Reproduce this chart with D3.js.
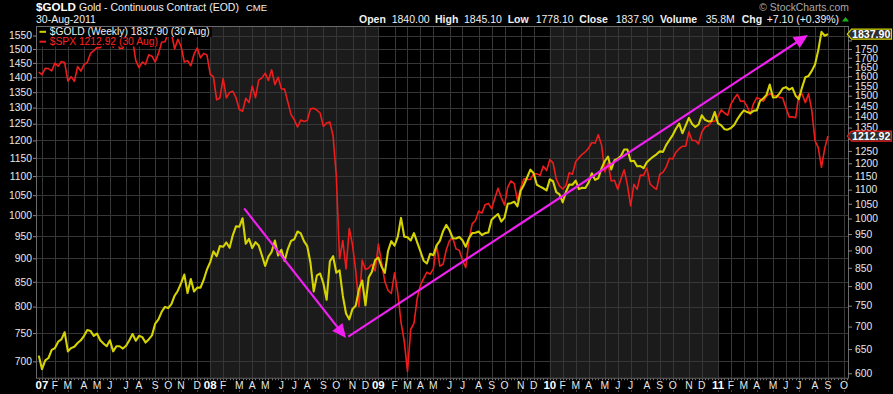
<!DOCTYPE html>
<html><head><meta charset="utf-8">
<script src="https://cdn.jsdelivr.net/npm/d3@7"></script>
<style>
html,body{margin:0;padding:0;background:#000;}
svg{display:block;}
text{font-family:"Liberation Sans",Arial,sans-serif;}
</style></head><body>
<svg id="chart" width="893" height="394"></svg>
<script>
// ---------- DATA ----------
const firstWeek = [2006, 11, 29];          // first weekly bar (Fri 29-Dec-2006)
const goldStart = [636];
const gold2007 = [608,626,631,648, 652,666,671,687, 645,652,655,663,669, 679,692,690,679, 684,669,662,656, 669,645,656,656,651, 657,669,683,668, 679,676,664,671,680, 707,717,735,747, 744,754,775,788, 808,831,782,819,786, 796,796,817,845];
const gold2008 = [866,897,883,913, 911,924,908,947,975, 973,1001,920,935, 907,925,915,885, 855,882,896,930,885, 902,869,904,929, 934,958,952,928, 913,864,786,829,834, 807,765,868,883, 836,843,775,731,717, 742,750,792,815, 751,823,839,872];
const gold2009 = [879,853,836,899,928, 914,942,1002,942, 940,930,953,924, 897,870,862,890, 886,915,929,959,979, 962,937,936,941, 931,911,937,953,954, 958,947,953,955, 996,1006,1015,990, 1003,1050,1052,1057,1041, 1096,1118,1146,1175, 1161,1118,1111,1105, 1097];
const gold2010 = [1138,1131,1091,1083, 1055,1092,1119,1118, 1133,1102,1107,1106, 1126,1161,1136,1142,1180, 1209,1227,1176,1212, 1218,1229,1256,1256, 1208,1210,1188,1189,1181, 1204,1216,1227,1236, 1248,1246,1275,1296, 1317,1345,1368,1325,1359, 1394,1366,1353,1364, 1406,1385,1378,1380,1421];
const gold2011 = [1369,1360,1343,1341, 1348,1362,1388,1410, 1429,1421,1416,1427, 1429,1474,1486,1504,1556, 1491,1492,1510,1536, 1543,1530,1539,1500, 1483,1542,1594,1601,1628, 1663,1742,1852,1828, 1837.90];

const spxStart = [1418];
const spx2007 = [1409,1431,1430,1422, 1449,1438,1455,1451, 1387,1402,1386,1437,1421, 1444,1452,1484,1494, 1505,1505,1522,1515, 1536,1507,1533,1502,1503, 1530,1552,1534,1458, 1433,1453,1445,1479,1474, 1453,1484,1525,1527, 1557,1561,1500,1536, 1509,1453,1458,1440,1481, 1504,1468,1484,1478];
const spx2008 = [1411,1401,1325,1331, 1396,1331,1349,1353,1331, 1294,1288,1330,1316, 1370,1332,1390,1398, 1414,1389,1426,1375,1400, 1361,1360,1318,1278, 1262,1240,1261,1257, 1260,1296,1298,1292,1283, 1242,1252,1255,1213, 1099,899,940,877,968, 930,873,800,896, 876,879,887,873];
const spx2009 = [932,890,850,832,826, 869,827,770,735, 683,757,768,816, 843,857,870,866, 877,930,883,887,919, 940,946,921,918, 896,880,941,979,987, 1010,1005,1026,1029, 1016,1042,1068,1044, 1025,1071,1087,1080,1036, 1069,1093,1091,1091, 1106,1106,1102,1127, 1115];
const spx2010 = [1145,1136,1092,1074, 1066,1075,1109,1105, 1139,1150,1160,1167, 1178,1194,1192,1217,1187, 1111,1136,1087,1089, 1065,1092,1117,1076, 1023,1078,1065,1103,1102, 1122,1079,1071,1065, 1105,1110,1125,1149, 1147,1166,1176,1183,1183, 1225,1200,1200,1190, 1225,1240,1244,1257,1258];
const spx2011 = [1272,1293,1283,1276, 1311,1329,1343,1320, 1321,1304,1279,1313, 1332,1328,1320,1337,1345, 1340,1338,1333,1331, 1300,1271,1271,1268, 1340,1344,1316,1345,1292, 1199,1179,1124,1177, 1212.92];

const leftTicks = [700,750,800,850,900,950,1000,1050,1100,1150,1200,1250,1300,1350,1400,1450,1500,1550];
const rightTicks = [600,650,700,750,800,850,900,950,1000,1050,1100,1150,1200,1250,1300,1350,1400,1450,1500,1550,1600,1650,1700,1750,1800];
const monthLetters = ["J","F","M","A","M","J","J","A","S","O","N","D"];
const shadedYears = [2008, 2010];
const quoteFields = [["Open","1840.00"],["High","1845.10"],["Low","1778.10"],["Close","1837.90"],["Volume","35.8M"],["Chg","+7.10 (+0.39%)"]];
const legendItems = [["$GOLD (Weekly) 1837.90 (30 Aug)","gold"],["$SPX 1212.92 (30 Aug)","spx"]];
// trend-line annotations, in (week index, gold price)
const arrowDown = [[63.5, 1034],[95.0, 674]];
const arrowUp = [[95.7, 677],[237.8, 1833]];

// ---------- BUILD ----------
const gold = [].concat(goldStart, gold2007, gold2008, gold2009, gold2010, gold2011);
const spx = [].concat(spxStart, spx2007, spx2008, spx2009, spx2010, spx2011);

const C = {gold:"#d6d400", spx:"#f01c1c", grid:"#363636", frame:"#6a6a6a", shade:"#1b1b1b", txt:"#e8e8e8", mag:"#f020f0"};
const P = {l:36, r:848, t:26, b:377.7};
const svg = d3.select("#chart");
svg.append("rect").attr("width",893).attr("height",394).attr("fill","#000");

const slotDate = i => new Date(firstWeek[0], firstWeek[1], firstWeek[2] + 7*i);
const barDate = i => { const d = slotDate(i); return (d.getMonth()===0 && d.getDate()===1) ? new Date(d.getFullYear()-1,11,31) : d; };

const x = d3.scaleLinear().domain([-0.86, 250.2]).range([P.l, P.r]);
const yL = d3.scaleLog().domain([672.6, 1586.5]).range([P.b, P.t]);
const yR = d3.scaleLog().domain([591.3, 1887.9]).range([P.b, P.t]);

const monthTicks = [];
for (let i = 0; i <= 250; i++) {
  const a = barDate(i), b = barDate(i-1);
  if (a.getMonth() !== b.getMonth() && x(i) < P.r) monthTicks.push({i, d:a});
}

// shading
shadedYears.forEach(yr => {
  const s = monthTicks.find(t => t.d.getMonth()===0 && t.d.getFullYear()===yr);
  const e = monthTicks.find(t => t.d.getMonth()===0 && t.d.getFullYear()===yr+1);
  svg.append("rect").attr("x", x(s.i)).attr("y", P.t).attr("width", x(e.i)-x(s.i)).attr("height", P.b-P.t).attr("fill", C.shade);
});

// grid
const grid = svg.append("g").attr("stroke", C.grid).attr("stroke-width",1);
grid.selectAll(".v").data(monthTicks).join("line")
  .attr("x1", d=>Math.round(x(d.i))+0.5).attr("x2", d=>Math.round(x(d.i))+0.5).attr("y1",P.t).attr("y2",P.b);
grid.selectAll(".h").data(leftTicks).join("line")
  .attr("x1",P.l).attr("x2",P.r).attr("y1", d=>Math.round(yL(d))+0.5).attr("y2", d=>Math.round(yL(d))+0.5);

// frame
svg.append("rect").attr("x",P.l+0.5).attr("y",P.t+0.5).attr("width",P.r-P.l).attr("height",P.b-P.t)
  .attr("fill","none").attr("stroke",C.frame);

// series
svg.append("path").datum(spx).attr("fill","none").attr("stroke",C.spx).attr("stroke-width",1.6).attr("stroke-linejoin","round")
  .attr("d", d3.line().x((d,i)=>x(i)).y(d=>yL(d)));
svg.append("path").datum(gold).attr("fill","none").attr("stroke",C.gold).attr("stroke-width",2.1).attr("stroke-linejoin","round")
  .attr("d", d3.line().x((d,i)=>x(i)).y(d=>yR(d)));

// arrows
function arrow(pts){
  const p0 = [x(pts[0][0]), yR(pts[0][1])], p1 = [x(pts[1][0]), yR(pts[1][1])];
  const dx = p1[0]-p0[0], dy = p1[1]-p0[1], L = Math.hypot(dx,dy), ux = dx/L, uy = dy/L;
  const hl = 14, hw = 6.5;
  const bx = p1[0]-ux*hl, by = p1[1]-uy*hl;
  svg.append("line").attr("x1",p0[0]).attr("y1",p0[1]).attr("x2",bx+ux*2).attr("y2",by+uy*2)
    .attr("stroke",C.mag).attr("stroke-width",2.2);
  svg.append("path").attr("fill",C.mag)
    .attr("d", `M${p1[0]},${p1[1]}L${bx-uy*hw},${by+ux*hw}L${bx+uy*hw},${by-ux*hw}Z`);
}
arrow(arrowDown); arrow(arrowUp);

// left axis
const ax = svg.append("g").attr("transform",`translate(${P.l},0)`)
  .call(d3.axisLeft(yL).tickValues(leftTicks).tickSize(3).tickPadding(1).tickFormat(d3.format("d")));
ax.select(".domain").remove();
ax.selectAll("line").attr("stroke","#888");
ax.selectAll("text").attr("fill",C.txt).attr("font-size","10.3px").attr("font-family","Liberation Sans, Arial, sans-serif");

// price tag positions (last values)
const goldTagY = yR(gold[gold.length-1]);
const spxTagY = yL(spx[spx.length-1]);

// right axis (labels that sit fully under a price tag are hidden, as in the original)
const axr = svg.append("g").attr("transform",`translate(${P.r},0)`)
  .call(d3.axisRight(yR).tickValues(rightTicks).tickSize(4).tickPadding(3).tickFormat(d3.format("d")));
axr.select(".domain").remove();
axr.selectAll("line").attr("stroke","#888");
axr.selectAll("text").attr("fill",C.txt).attr("font-size","10.3px").attr("font-family","Liberation Sans, Arial, sans-serif")
  .style("display", d => (Math.abs(yR(d)-goldTagY) < 9 || Math.abs(yR(d)-spxTagY) < 5) ? "none" : null);

// bottom: weekly minor ticks
svg.append("g").selectAll("line").data(d3.range(0, 251)).join("line")
  .attr("x1", i=>Math.round(x(i))+0.5).attr("x2", i=>Math.round(x(i))+0.5).attr("y1", P.b+1).attr("y2", P.b+2.5)
  .attr("stroke","#777");
svg.append("g").selectAll("rect").data(monthTicks).join("rect")
  .attr("x", d=>Math.round(x(d.i))).attr("y", 390.5).attr("width",1).attr("height",1).attr("fill","#888");
svg.append("g").selectAll("text").data(monthTicks).join("text")
  .attr("x", d => d.d.getMonth()===0 ? Math.max(x(d.i), 39.5) : x(d.i))
  .attr("y", 388.6).attr("text-anchor","middle")
  .attr("font-size", d => d.d.getMonth()===0 ? "11.5px" : "10.3px")
  .attr("font-weight", d => d.d.getMonth()===0 ? "bold" : "normal")
  .attr("fill", d => d.d.getMonth()===0 ? "#fff" : C.txt)
  .text(d => d.d.getMonth()===0 ? String(d.d.getFullYear()).slice(2) : monthLetters[d.d.getMonth()]);

// legend
const lg = svg.append("g");
legendItems.forEach((it, k) => {
  const yb = k===0 ? 35.3 : 45.2;
  const t = lg.append("text").attr("x",49.7).attr("y",yb).attr("font-size","10.3px")
    .attr("fill", it[1]==="gold" ? "#f0f0f0" : "#ff2020").text(it[0]);
  const w = t.node().getComputedTextLength();
  lg.insert("rect","text").attr("x",P.l+1).attr("y", k===0 ? P.t+1 : 36).attr("width", w+49.7-P.l+1).attr("height", k===0 ? 10 : 10.5).attr("fill","#000");
  lg.append("rect").attr("x",39.5).attr("y", yb-4.5).attr("width",6.5).attr("height",2)
    .attr("fill", it[1]==="gold" ? C.gold : C.spx);
});

// price tags on right
function tag(yc, label, col){
  const g = svg.append("g");
  g.append("path").attr("d", `M847.3,${yc}L851.5,${yc-5}L891.5,${yc-5}L891.5,${yc+5}L851.5,${yc+5}Z`)
    .attr("fill","#2e2e2e").attr("stroke",col).attr("stroke-width",1.2);
  g.append("text").attr("x",852).attr("y",yc+3.8).attr("font-size","10.6px").attr("font-weight","bold")
    .attr("fill","#fff").text(label);
}
tag(goldTagY, d3.format(".2f")(gold[gold.length-1]), "#d6d400");
tag(spxTagY, d3.format(".2f")(spx[spx.length-1]), "#f01c1c");

// header
svg.append("text").attr("x",36).attr("y",10.5).attr("font-size","11.6px").attr("font-weight","bold").attr("fill","#fff").text("$GOLD");
svg.append("text").attr("x",79).attr("y",10.5).attr("font-size","10.5px").attr("fill","#f0f0f0").text("Gold - Continuous Contract (EOD)");
svg.append("text").attr("x",246).attr("y",10.5).attr("font-size","9.5px").attr("fill","#f0f0f0").text("CME");
svg.append("text").attr("x",36).attr("y",22.6).attr("font-size","10.5px").attr("fill","#f0f0f0").text("30-Aug-2011");
svg.append("text").attr("x",759.3).attr("y",10.6).attr("font-size","10.4px").attr("fill","#a8a8a8").text("\u00A9 StockCharts.com");

const qx = [[359,391.7],[435,464],[507.7,535.7],[579.3,615.7],[660,705.7],[741.7,766.7]];
quoteFields.forEach((f,k) => {
  svg.append("text").attr("x",qx[k][0]).attr("y",22.6).attr("font-size","10.5px").attr("font-weight","bold").attr("fill","#f0f0f0").text(f[0]);
  svg.append("text").attr("x",qx[k][1]).attr("y",22.6).attr("font-size","10.5px").attr("fill","#f0f0f0").text(f[1]);
});
svg.append("path").attr("d","M842,21.5L845.5,17L849,21.5Z").attr("fill","#19b019");
</script>
</body></html>
